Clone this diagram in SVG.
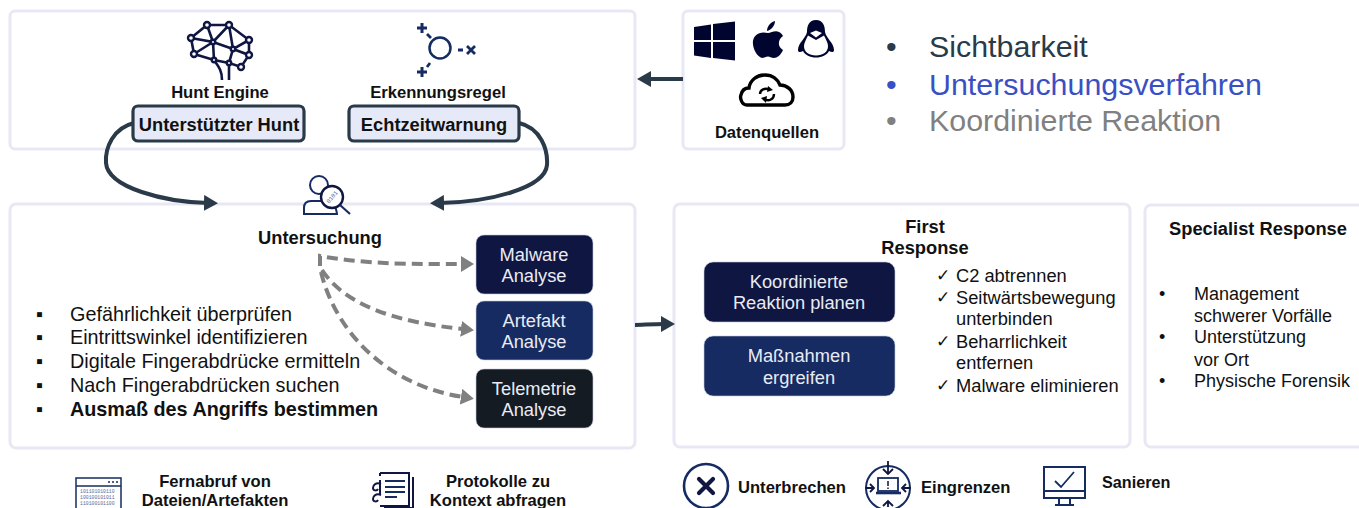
<svg xmlns="http://www.w3.org/2000/svg" width="1359" height="508" viewBox="0 0 1359 508">
<style>
text{font-family:"Liberation Sans",Arial,sans-serif;fill:#111}
.panel{fill:#fff;stroke:#e8e8f4;stroke-width:3}
.b{font-weight:700}
.m{text-anchor:middle}
.t14{font-size:16.6px}
.t16{font-size:18.300px}
.list{font-size:19.800px}
.sm{font-size:18.300px}
.ck{font-size:16.500px}
.sp{font-size:18px}
.w{fill:#e9ebf4;font-size:18.300px;text-anchor:middle}
.chip{fill:#e6e9f7;stroke:#2a3a48;stroke-width:3.200}
.dark{stroke:#c8cbdc;stroke-width:.6}
.hd{font-size:30.400px}
.c1{fill:none;stroke:#2a3a48;stroke-width:4}
.c2{fill:none;stroke:#808080;stroke-width:4;stroke-dasharray:11 6}
.ic{fill:none;stroke:#152b62;stroke-width:2}
.in{fill:none;stroke:#0f1642;stroke-width:2}
.bit{font-family:"Liberation Mono",monospace;fill:#5a6b96}
</style>
<defs>
<marker id="ah" markerUnits="userSpaceOnUse" markerWidth="14" markerHeight="16" viewBox="0 0 14 16" refX="4" refY="8" orient="auto"><path d="M0,0 14,8 0,16z" fill="#2a3a48"/></marker>
<marker id="ag" markerUnits="userSpaceOnUse" markerWidth="13" markerHeight="16" viewBox="0 0 13 16" refX="2" refY="8" orient="auto"><path d="M0,0 13,8 0,16z" fill="#808080"/></marker>
</defs>

<g id="panel-detection"><rect class="panel" x="10" y="11" width="625" height="138" rx="5"/></g>
<g id="panel-sources"><rect class="panel" x="683" y="11" width="161" height="138" rx="5"/></g>
<g id="panel-investigation"><rect class="panel" x="10" y="204" width="625" height="244" rx="6"/></g>
<g id="panel-first-response"><rect class="panel" x="674" y="204" width="456" height="243" rx="6"/></g>
<g id="panel-specialist"><rect class="panel" x="1145" y="205" width="240" height="242" rx="6"/></g>

<g id="connectors">
<path class="c1" marker-end="url(#ah)" d="M134,123C113,128 105,148 106,163C108,188 165,202 208,203"/>
<path class="c1" marker-end="url(#ah)" d="M519,123C541,128 548,150 547,165C545,188 490,202 440,203"/>
<path class="c1" marker-end="url(#ah)" d="M683,79H647"/>
<path class="c1" marker-end="url(#ah)" d="M635,325C642,325 652,324 665,324"/>
<path class="c2" marker-end="url(#ag)" d="M320,266V256C370,265 420,264 463,264"/>
<path class="c2" marker-end="url(#ag)" d="M322,270C345,305 395,322 463,329"/>
<path class="c2" marker-end="url(#ag)" d="M321,272C335,330 385,385 463,397"/>
</g>

<g id="hunt-engine">
<path class="in" style="stroke-width:2.600" d="M207,25H229L249,40 233,49 229,63 241,67 249,55 233,49 229,25 213,42 207,25 191,38 213,42 194,54 191,38M213,42 233,49M194,54 214,60 213,42M214,60 229,63 233,49 249,55 249,40M214,60C218,66 222,70 222,80M229,63V80"/>
<g fill="#fff" stroke="#0f1642" stroke-width="2.400"><circle cx="207" cy="25" r="3"/><circle cx="229" cy="25" r="3"/><circle cx="191" cy="38" r="3"/><circle cx="249" cy="40" r="3"/><circle cx="213" cy="42" r="2.200"/><circle cx="233" cy="49" r="2.200"/><circle cx="194" cy="54" r="3"/><circle cx="249" cy="55" r="3"/><circle cx="214" cy="60" r="2.200"/><circle cx="229" cy="63" r="2.200"/><circle cx="241" cy="67" r="3"/></g>
<text class="b m t14" x="220" y="98">Hunt Engine</text>
<rect class="chip" x="133" y="106" width="171" height="35" rx="5"/>
<text class="b m t16" x="219" y="131">Unterstützter Hunt</text>
</g>

<g id="detection-rule">
<circle cx="440" cy="48" r="10.500" fill="none" stroke="#152b62" stroke-width="2.500"/>
<path d="M422,23V33M417,28H427M422,67V77M417,72H427" stroke="#152b62" stroke-width="3" fill="none"/>
<path d="M427,34 431,38M430,63 427,67M458,50H463M467,46 475,54M475,46 467,54" stroke="#152b62" stroke-width="2.800" fill="none"/>
<text class="b m t14" x="438" y="98">Erkennungsregel</text>
<rect class="chip" x="349" y="106" width="170" height="35" rx="5"/>
<text class="b m t16" x="434" y="131">Echtzeitwarnung</text>
</g>

<g id="data-sources">
<path fill="#000530" d="M694,27 711,24.5V40H694ZM713,24 735,21.5V40H713ZM694,42H711V58L694,55.5ZM713,42H735V60.5L713,58Z"/>
<path fill="#000530" d="M768,33C771,33 775,30 779,32C781,33 782,34 783,36C778,39 777,47 783,50C781,55 777,58 774,58C771,58 770,56.500 768,56.500C766,56.500 764,58 762,58C757,57 752,48 753,41C754,35 759,31 768,33ZM767,31C767,26 771,22 775,21C775,26 771,30 767,31Z"/>
<path fill="#000530" d="M816,20C823,20 825,26 825,32C826,38 834,43 834,50C834,53 831,52 829,51C827,55 822,57.500 816,57.500C810,57.500 805,55 803,51C801,52 798,53 798,50C798,43 806,38 807,32C807,26 809,20 816,20Z"/>
<path d="M816,40 824,35.500C826,40 828,43 828,46C828,52 823,55.500 816,55.500C809,55.500 804,52 804,46C804,43 806,40 808,35.500Z" fill="#fff"/>
<path d="M810,33 816,30.500 822,33 816,37.500Z" fill="#fff"/>
<text class="b m t14" x="767" y="138">Datenquellen</text>
<path d="M747,105C741,105 740,97 741,95C742,90 745,88 749,88C750,80 757,75 765,75C773,75 778,80 780,85C787,85 793,90 793,97C793,102 790,105 785,105Z" fill="none" stroke="#000" stroke-width="3.400"/>
<path d="M760,94C760,90 765,87 770,90M774,94C774,99 769,102 764,99" fill="none" stroke="#000" stroke-width="2.400"/>
<path d="M768,86 773,90 767,92ZM766,103 761,98 767,96Z" fill="#000"/>
</g>

<g id="legend-list">
<text class="hd" x="886" y="57" style="fill:#2a3a48">•</text>
<text class="hd" x="929" y="57" style="fill:#2a3a48">Sichtbarkeit</text>
<text class="hd" x="886" y="95" style="fill:#3a4fc4">•</text>
<text class="hd" x="929" y="95" style="fill:#3a4fc4">Untersuchungsverfahren</text>
<text class="hd" x="886" y="131" style="fill:#808080">•</text>
<text class="hd" x="929" y="131" style="fill:#808080">Koordinierte Reaktion</text>
</g>

<g id="investigation">
<circle cx="319" cy="185" r="9" fill="#fff" stroke="#152b62" stroke-width="2"/>
<path d="M304,214V208C304,203 307,201 311,201H325C332,201 336,206 337,214Z" fill="#fff" stroke="#152b62" stroke-width="2"/>
<circle cx="332" cy="197" r="11" fill="#fff" stroke="#0f1642" stroke-width="2.400"/>
<path d="M340,205 350,214" stroke="#152b62" stroke-width="2.200"/>
<text class="bit" font-size="6" transform="translate(332,197) rotate(-50)" text-anchor="middle" y="2">0101</text>
<text class="b m t16" x="320" y="244">Untersuchung</text>
<g class="list">
<text x="36" y="321">▪</text><text x="70" y="321">Gefährlichkeit überprüfen</text>
<text x="36" y="344">▪</text><text x="70" y="344">Eintrittswinkel identifizieren</text>
<text x="36" y="368">▪</text><text x="70" y="368">Digitale Fingerabdrücke ermitteln</text>
<text x="36" y="392">▪</text><text x="70" y="392">Nach Fingerabdrücken suchen</text>
<text x="36" y="416">▪</text><text class="b" x="70" y="416">Ausmaß des Angriffs bestimmen</text>
</g>
</g>

<g id="malware-analyse"><rect class="dark" x="476" y="235" width="117" height="59" rx="8" fill="#0f1642"/><text class="w" x="534" y="261">Malware</text><text class="w" x="534" y="282">Analyse</text></g>
<g id="artefakt-analyse"><rect class="dark" x="476" y="301" width="117" height="59" rx="8" fill="#152b62"/><text class="w" x="534" y="327">Artefakt</text><text class="w" x="534" y="348">Analyse</text></g>
<g id="telemetrie-analyse"><rect class="dark" x="476" y="369" width="117" height="59" rx="8" fill="#141b22"/><text class="w" x="534" y="395">Telemetrie</text><text class="w" x="534" y="416">Analyse</text></g>

<g id="first-response">
<text class="b m t16" x="925" y="233">First</text>
<text class="b m t16" x="925" y="254">Response</text>
<g class="sm">
<text class="ck" x="936" y="281">✓</text><text x="956" y="282">C2 abtrennen</text>
<text class="ck" x="936" y="303">✓</text><text x="956" y="304">Seitwärtsbewegung</text>
<text x="956" y="325">unterbinden</text>
<text class="ck" x="936" y="347">✓</text><text x="956" y="348">Beharrlichkeit</text>
<text x="956" y="369">entfernen</text>
<text class="ck" x="936" y="391">✓</text><text x="956" y="392">Malware eliminieren</text>
</g>
</g>
<g id="plan-response"><rect class="dark" x="704" y="262" width="191" height="60" rx="9" fill="#0f1642"/><text class="w" x="799" y="288">Koordinierte</text><text class="w" x="799" y="309">Reaktion planen</text></g>
<g id="take-action"><rect class="dark" x="704" y="336" width="191" height="60" rx="9" fill="#152b62"/><text class="w" x="799" y="362">Maßnahmen</text><text class="w" x="799" y="384">ergreifen</text></g>

<g id="specialist-response">
<text class="b m t16" x="1258" y="235">Specialist Response</text>
<g class="sp">
<text x="1159" y="300">•</text><text x="1194" y="300">Management</text>
<text x="1194" y="322">schwerer Vorfälle</text>
<text x="1159" y="343">•</text><text x="1194" y="343">Unterstützung</text>
<text x="1194" y="366">vor Ort</text>
<text x="1159" y="387">•</text><text x="1194" y="387">Physische Forensik</text>
</g>
</g>

<g id="remote-fetch">
<rect x="76" y="478" width="45" height="34" fill="#fff" stroke="#152b62" stroke-width="1.500"/>
<path d="M76,486H121" stroke="#152b62" stroke-width="1.500"/>
<path d="M108,482h2M112,482h2M116,482h2" stroke="#152b62" stroke-width="1.500"/>
<text class="bit" font-size="4.800" x="80" y="493">101101010110</text>
<text class="bit" font-size="4.800" x="80" y="499">100100101011</text>
<text class="bit" font-size="4.800" x="80" y="505">110100101100</text>
<text class="b m t14" x="215" y="487">Fernabruf von</text>
<text class="b m t14" x="215" y="506">Dateien/Artefakten</text>
</g>

<g id="query-logs">
<path d="M380,473H409V506H380M380,494V480M380,473V476M413,477V508H384" class="in"/>
<path d="M385,481H405M385,487H405M385,492H405M385,497H397" stroke="#152b62" stroke-width="2"/>
<path d="M381,484C376,482 373,485 373,488C373,491 377,491 378,489M381,495C376,493 373,496 373,499C373,502 377,502 378,500" class="in"/>
<text class="b m t14" x="498" y="487">Protokolle zu</text>
<text class="b m t14" x="498" y="506">Kontext abfragen</text>
</g>

<g id="disrupt">
<circle cx="706" cy="486" r="22" fill="none" stroke="#152b62" stroke-width="2.600"/>
<path d="M699,479 713,493M713,479 699,493" stroke="#0f1642" stroke-width="4.200" stroke-linecap="round"/>
<text class="b t14" x="738" y="493">Unterbrechen</text>
</g>

<g id="contain">
<circle cx="888" cy="488" r="22" fill="none" stroke="#152b62" stroke-width="2"/>
<path d="M888,461V474M883,469 888,474 893,469M888,507V501M883,506 888,501 893,506M865,488H873M870,484 874,488 870,492M911,488H903M906,484 902,488 906,492" fill="none" stroke="#0f1642" stroke-width="1.800"/>
<rect x="878" y="478" width="20" height="13" fill="#fff" stroke="#152b62" stroke-width="1.800"/>
<path d="M876,493H901" stroke="#152b62" stroke-width="2.600"/>
<path d="M888,481V486M888,487.500V489" stroke="#0f1642" stroke-width="1.500"/>
<text class="b t14" x="921" y="493">Eingrenzen</text>
</g>

<g id="remediate">
<rect x="1044" y="467" width="41" height="31" fill="none" stroke="#152b62" stroke-width="2"/>
<path d="M1044,491H1085" stroke="#152b62" stroke-width="2"/>
<path d="M1055,481 1061,487 1074,472" fill="none" stroke="#152b62" stroke-width="1.800"/>
<path d="M1059,498V505M1070,498V505M1055,505H1074" fill="none" stroke="#152b62" stroke-width="2"/>
<text class="b" x="1102" y="488" style="font-size:16.200px">Sanieren</text>
</g>
</svg>
